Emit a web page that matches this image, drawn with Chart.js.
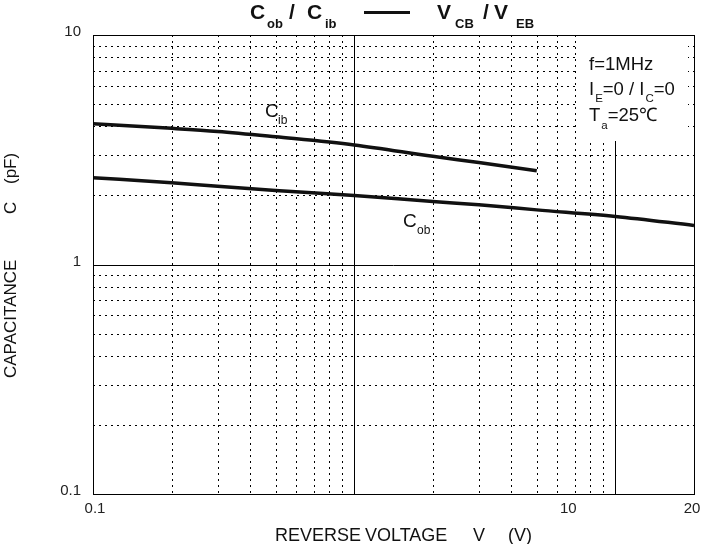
<!DOCTYPE html>
<html>
<head>
<meta charset="utf-8">
<script src="https://cdn.jsdelivr.net/npm/chart.js@4.4.1/dist/chart.umd.min.js"></script>
<style>
  body { margin: 0; background: #fff; }
  #caja { width: 702px; height: 544px; }
</style>
</head>
<body>
<div id="caja"><canvas id="grafico" width="702" height="544"></canvas></div>
<script>
// Cob / Cib contra VCB / VEB (escalas logaritmicas)
const voltajeCib = [0.1, 0.2, 0.3, 0.5, 1, 2, 3, 5];
const valoresCib = [4.1, 3.92, 3.8, 3.6, 3.32, 2.96, 2.78, 2.56];
const voltajeCob = [0.1, 0.2, 0.3, 0.5, 1, 2, 3, 5, 10, 20];
const valoresCob = [2.39, 2.27, 2.19, 2.1, 2.0, 1.88, 1.82, 1.73, 1.62, 1.48];

// rejilla punteada y lineas mayores
const rejillaX = [0.2, 0.3, 0.4, 0.5, 0.6, 0.7, 0.8, 0.9, 2, 3, 4, 5, 6, 7, 8, 9];
const mayoresX = [1, 10];
const rejillaY = [0.2, 0.3, 0.4, 0.5, 0.6, 0.7, 0.8, 0.9, 2, 3, 4, 5, 6, 7, 8, 9];
const mayoresY = [1];
const ticksX = [0.1, 10, 20];
const etiquetasX = ['0.1', '10', '20'];
const ticksY = [0.1, 1, 10];
const etiquetasY = ['0.1', '1', '10'];

const FUENTE = "'Liberation Sans', Arial, sans-serif";

function texto(ctx, str, x, y, size, peso) {
  ctx.font = (peso || '') + ' ' + size + 'px ' + FUENTE;
  ctx.fillText(str, x, y);
  return x + ctx.measureText(str).width;
}

const dibujo = {
  id: 'dibujo',
  beforeDatasetsDraw(chart) {
    const { ctx, chartArea: a, scales: { x, y } } = chart;
    ctx.save();
    ctx.strokeStyle = '#000';
    ctx.lineWidth = 1;
    ctx.setLineDash([2, 4]);
    rejillaX.forEach(v => {
      const px = Math.round(x.getPixelForValue(v)) + 0.5;
      ctx.beginPath(); ctx.moveTo(px, a.top); ctx.lineTo(px, a.bottom); ctx.stroke();
    });
    rejillaY.forEach(v => {
      const py = Math.round(y.getPixelForValue(v)) + 0.5;
      ctx.beginPath(); ctx.moveTo(a.left, py); ctx.lineTo(a.right, py); ctx.stroke();
    });
    ctx.setLineDash([]);
    mayoresX.forEach(v => {
      const px = Math.round(x.getPixelForValue(v)) + 0.5;
      ctx.beginPath(); ctx.moveTo(px, a.top); ctx.lineTo(px, a.bottom); ctx.stroke();
    });
    mayoresY.forEach(v => {
      const py = Math.round(y.getPixelForValue(v)) + 0.5;
      ctx.beginPath(); ctx.moveTo(a.left, py); ctx.lineTo(a.right, py); ctx.stroke();
    });
    // recuadro de condiciones
    ctx.fillStyle = '#fff';
    ctx.fillRect(579, a.top + 1, 109, 105);
    ctx.restore();
  },
  afterDatasetsDraw(chart) {
    const { ctx, chartArea: a, scales: { x, y } } = chart;
    ctx.save();
    ctx.strokeStyle = '#000';
    ctx.lineWidth = 1;
    ctx.strokeRect(Math.round(a.left) + 0.5, Math.round(a.top) + 0.5,
      Math.round(a.right - a.left), Math.round(a.bottom - a.top));

    ctx.fillStyle = '#222';
    ctx.textBaseline = 'middle';
    // etiquetas eje y
    ctx.textAlign = 'right';
    ticksY.forEach((v, i) => {
      ctx.font = '15px ' + FUENTE;
      ctx.fillText(etiquetasY[i], 81, y.getPixelForValue(v) - 3);
    });
    // etiquetas eje x (el 10 va corrido como en el original)
    ctx.textAlign = 'center';
    const corrimiento = [2, -47, -2];
    ticksX.forEach((v, i) => {
      ctx.font = '15px ' + FUENTE;
      ctx.fillText(etiquetasX[i], x.getPixelForValue(v) + corrimiento[i], 509);
    });

    ctx.textBaseline = 'alphabetic';
    ctx.textAlign = 'left';
    ctx.fillStyle = '#111';
    // titulo
    texto(ctx, 'C', 250, 19, 21, 'bold');
    texto(ctx, 'ob', 267, 28, 13, 'bold');
    texto(ctx, '/', 289, 19, 21, 'bold');
    texto(ctx, 'C', 307, 19, 21, 'bold');
    texto(ctx, 'ib', 325, 28, 13, 'bold');
    ctx.fillRect(364, 11, 46, 3);
    texto(ctx, 'V', 437, 19, 21, 'bold');
    texto(ctx, 'CB', 455, 28, 13, 'bold');
    texto(ctx, '/', 483, 19, 21, 'bold');
    texto(ctx, 'V', 494, 19, 21, 'bold');
    texto(ctx, 'EB', 516, 28, 13, 'bold');

    // titulo eje x
    texto(ctx, 'REVERSE', 275, 541, 18);
    texto(ctx, 'VOLTAGE', 365, 541, 18);
    texto(ctx, 'V', 473, 541, 18);
    texto(ctx, '(V)', 508, 541, 18);

    // titulo eje y
    ctx.save();
    ctx.translate(16, 378);
    ctx.rotate(-Math.PI / 2);
    texto(ctx, 'CAPACITANCE', 0, 0, 17);
    texto(ctx, 'C', 164, 0, 17);
    texto(ctx, '(pF)', 194, 0, 17);
    ctx.restore();

    // rotulos de curvas
    texto(ctx, 'C', 265, 117, 19);
    texto(ctx, 'ib', 278, 124, 12);
    texto(ctx, 'C', 403, 227, 19);
    texto(ctx, 'ob', 417, 234, 12);

    // condiciones
    texto(ctx, 'f=1MHz', 589, 70, 18.5);
    let cx = texto(ctx, 'I', 589, 95, 18.5);
    cx = texto(ctx, 'E', cx + 1, 102, 11.5);
    cx = texto(ctx, '=0 / I', cx, 95, 18.5);
    cx = texto(ctx, 'C', cx + 1, 102, 11.5);
    texto(ctx, '=0', cx, 95, 18.5);
    cx = texto(ctx, 'T', 589, 121, 18.5);
    cx = texto(ctx, 'a', cx + 1, 129, 11.5);
    texto(ctx, '=25\u2103', cx, 121, 18.5);
    ctx.restore();
  }
};

const contexto = document.getElementById('grafico').getContext('2d');

const grafico = new Chart(contexto, {
  type: 'line',
  data: {
    datasets: [{
      label: 'Cib',
      data: voltajeCib.map((v, i) => ({ x: v, y: valoresCib[i] })),
      borderColor: '#111',
      borderWidth: 3.5,
      pointRadius: 0,
      cubicInterpolationMode: 'monotone',
      fill: false
    }, {
      label: 'Cob',
      data: voltajeCob.map((v, i) => ({ x: v, y: valoresCob[i] })),
      borderColor: '#111',
      borderWidth: 3.5,
      pointRadius: 0,
      cubicInterpolationMode: 'monotone',
      fill: false
    }]
  },
  options: {
    responsive: false,
    animation: false,
    layout: { padding: { left: 93, right: 8, top: 35, bottom: 50 } },
    plugins: { legend: { display: false }, tooltip: { enabled: false } },
    scales: {
      x: { type: 'logarithmic', min: 0.1, max: 20, display: false },
      y: { type: 'logarithmic', min: 0.1, max: 10, display: false }
    }
  },
  plugins: [dibujo]
});
</script>
</body>
</html>
